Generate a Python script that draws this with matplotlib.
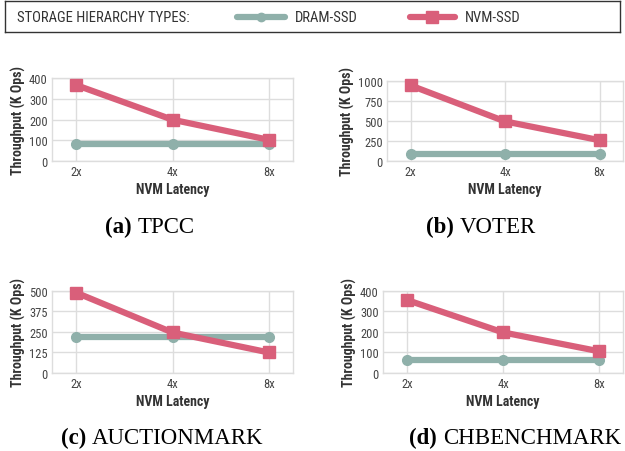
import matplotlib
matplotlib.use("Agg")
import matplotlib.pyplot as plt
from matplotlib.lines import Line2D
from matplotlib import font_manager

latency = ["2x", "4x", "8x"]
tpcc_dram = [84, 84, 84]
tpcc_nvm = [366, 199, 102]
voter_dram = [85, 85, 85]
voter_nvm = [945, 495, 260]
auction_dram = [222, 222, 222]
auction_nvm = [490, 247, 125]
chbench_dram = [63, 63, 63]
chbench_nvm = [356, 198, 106]

yticks = {
    "tpcc": [0, 100, 200, 300, 400],
    "voter": [0, 250, 500, 750, 1000],
    "auction": [0, 125, 250, 375, 500],
    "chbench": [0, 100, 200, 300, 400],
}
captions = [("(a)", "TPCC"), ("(b)", "VOTER"), ("(c)", "AUCTIONMARK"), ("(d)", "CHBENCHMARK")]

DRAM_C = "#8fb0aa"
NVM_C = "#d95f7a"
GRID_C = "#dddddd"
names = {f.name for f in font_manager.fontManager.ttflist}
font = "Roboto Condensed" if "Roboto Condensed" in names else "Roboto"
cond = font == "Roboto Condensed"
SERIF = "Liberation Serif"

fig = plt.figure(figsize=(6.25, 4.52), dpi=100)

panels = [
    ([0.0832, 0.6416, 0.3856, 0.1836], tpcc_dram, tpcc_nvm, yticks["tpcc"]),
    ([0.619, 0.6416, 0.378, 0.177], voter_dram, voter_nvm, yticks["voter"]),
    ([0.0832, 0.1726, 0.3856, 0.1814], auction_dram, auction_nvm, yticks["auction"]),
    ([0.6128, 0.1726, 0.384, 0.1814], chbench_dram, chbench_nvm, yticks["chbench"]),
]
# caption centers (pixels from left) and baselines (pixels from top)
cap_px = [(150, 233), (481, 233), (162, 444), (515, 444)]

tick_fs = 9 if cond else 8.5
x = list(range(len(latency)))
cap_texts = []
for (rect, dram, nvm, yt), (pre, name), (cx, cy) in zip(panels, captions, cap_px):
    ax = fig.add_axes(rect)
    ax.plot(x, dram, color=DRAM_C, lw=4.5, marker="o", ms=7, solid_capstyle="round", zorder=3, clip_on=False)
    ax.plot(x, nvm, color=NVM_C, lw=4.5, marker="s", ms=9, zorder=4, clip_on=False)
    ax.set_xlim(-0.25, 2.25)
    ax.set_ylim(yt[0], yt[-1])
    ax.set_yticks(yt)
    ax.set_xticks(x)
    ax.set_xticklabels(latency)
    ax.grid(True, color=GRID_C, lw=1)
    ax.set_axisbelow(True)
    for s in ax.spines.values():
        s.set_color(GRID_C)
        s.set_linewidth(1)
    ax.tick_params(length=0, labelsize=tick_fs, colors="#444444", pad=3)
    for lab in ax.get_xticklabels() + ax.get_yticklabels():
        lab.set_family(font)
    ax.set_xlabel("NVM Latency", fontsize=10 if cond else 9, fontweight="bold", family=font, color="#333333", labelpad=3)
    ax.set_ylabel("Throughput (K Ops)", fontsize=10 if cond else 8.5, fontweight="bold", family=font, color="#333333", labelpad=2)
    t1 = fig.text(0, 1 - cy / 452, pre + " ", ha="left", va="baseline", fontsize=16.5, fontweight="bold", family=SERIF)
    t2 = fig.text(0, 1 - cy / 452, name, ha="left", va="baseline", fontsize=16.5, family=SERIF)
    cap_texts.append((t1, t2, cx))

# center captions
renderer = fig.canvas.get_renderer()
for t1, t2, cx in cap_texts:
    w1 = t1.get_window_extent(renderer).width
    w2 = t2.get_window_extent(renderer).width
    left = cx - (w1 + w2) / 2
    y = t1.get_position()[1]
    t1.set_position((left / 625, y))
    t2.set_position(((left + w1) / 625, y))

# legend box
leg_fs = 10.5 if cond else 10
lax = fig.add_axes([0.008, 0.927, 0.984, 0.068])
lax.set_xlim(0, 1)
lax.set_ylim(0, 1)
lax.set_xticks([])
lax.set_yticks([])
for s in lax.spines.values():
    s.set_color("#333333")
    s.set_linewidth(1)
lax.text(0.02, 0.5, "STORAGE HIERARCHY TYPES:", va="center", ha="left", fontsize=leg_fs, family=font, color="#333333")
lax.add_line(Line2D([0.378, 0.455], [0.5, 0.5], color=DRAM_C, lw=4.5, solid_capstyle="round"))
lax.plot([0.4165], [0.5], marker="o", ms=6, color=DRAM_C)
lax.text(0.472, 0.5, "DRAM-SSD", va="center", ha="left", fontsize=leg_fs, family=font, color="#333333")
lax.add_line(Line2D([0.658, 0.732], [0.5, 0.5], color=NVM_C, lw=4.5, solid_capstyle="round"))
lax.plot([0.695], [0.5], marker="s", ms=8, color=NVM_C)
lax.text(0.748, 0.5, "NVM-SSD", va="center", ha="left", fontsize=leg_fs, family=font, color="#333333")

fig.savefig("out.png", dpi=100)
